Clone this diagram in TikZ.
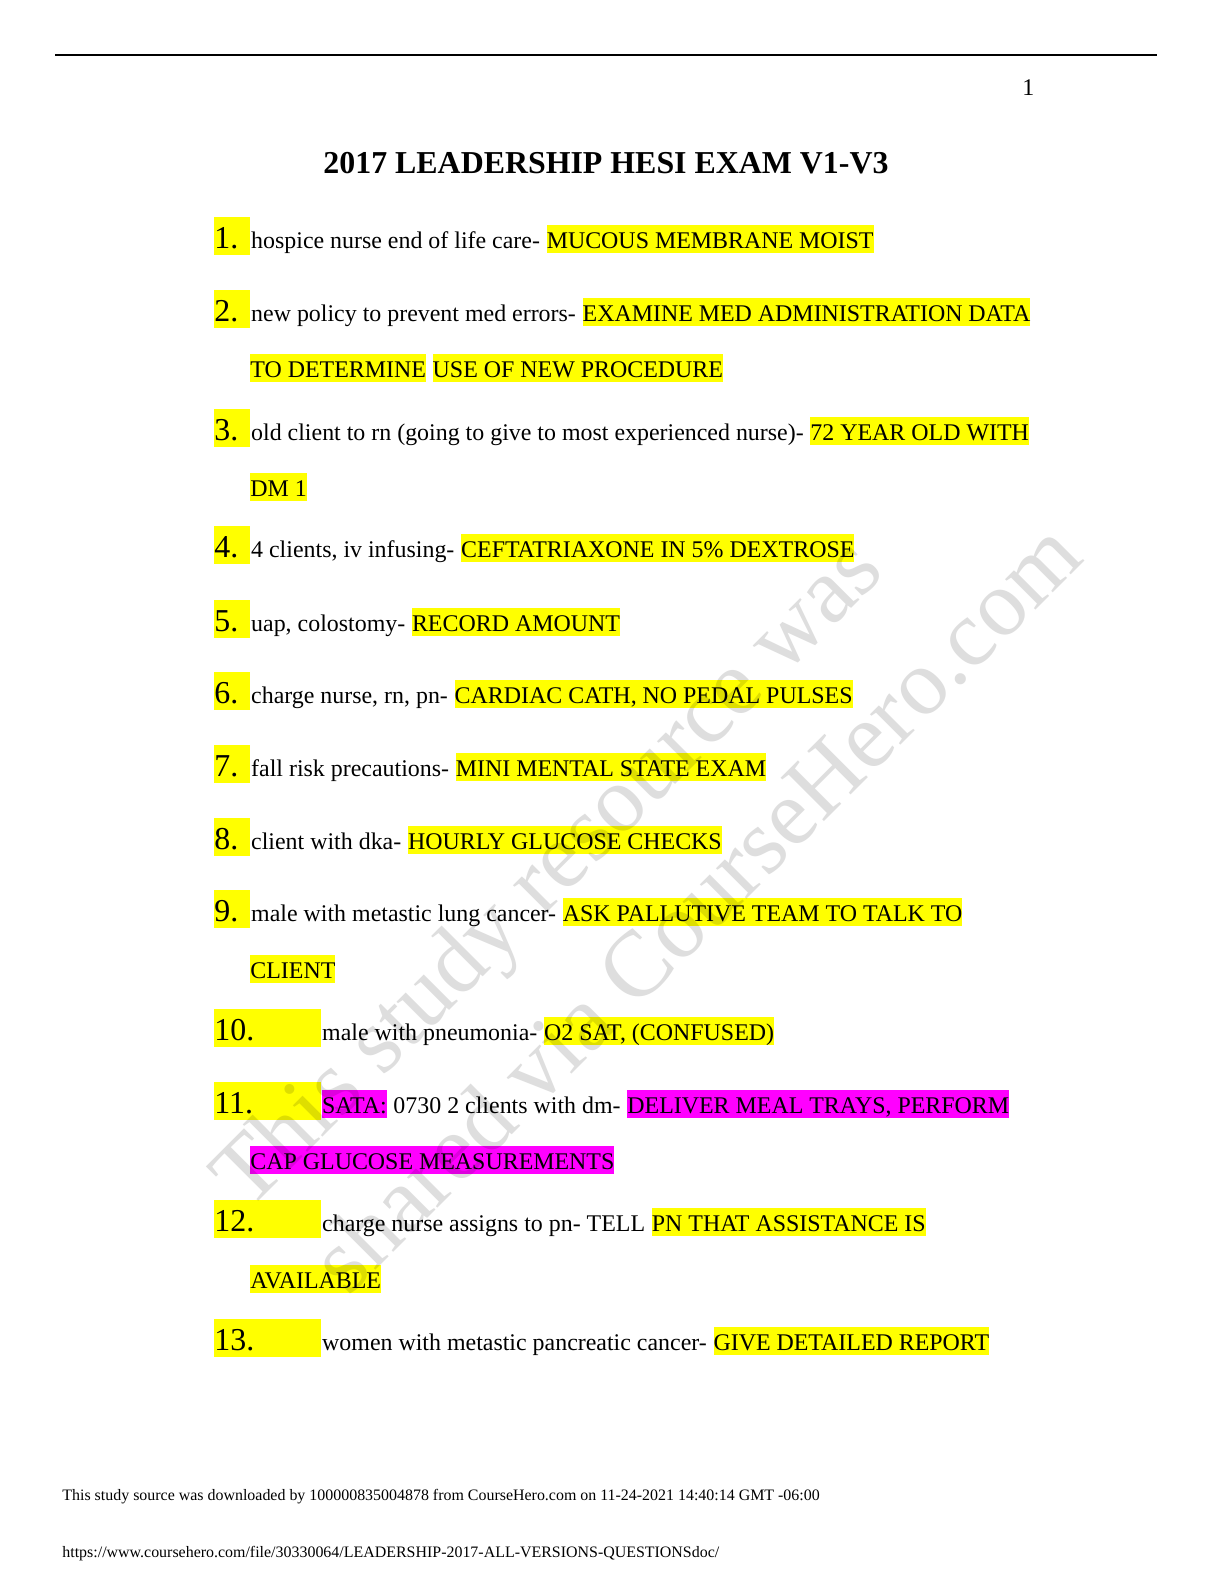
\documentclass[tikz,border=0pt]{standalone}
\usepackage{fontspec}
\setmainfont{Liberation Serif}
\usepackage{xcolor}
\usepackage{tikz}
\usetikzlibrary{positioning}
\definecolor{hlyellow}{RGB}{255,255,0}
\definecolor{hlmagenta}{RGB}{255,0,255}
\definecolor{wmgray}{RGB}{222,222,222}

\tikzset{
  num/.style={anchor=base west, inner sep=0pt, fill=hlyellow, align=left,
    font=\fontsize{16}{19}\selectfont, text height=15.3bp, text depth=3.4bp, text width=18bp},
  wnum/.style={num, text width=53.5bp},
  body/.style={anchor=base west, inner sep=0pt, font=\fontsize{12}{14}\selectfont,
    text height=11.3bp, text depth=2.7bp},
  hl/.style={body, fill=hlyellow},
  hlm/.style={body, fill=hlmagenta},
  foot/.style={anchor=base west, inner sep=0pt, font=\fontsize{8}{10}\selectfont},
  wmark/.style={anchor=base west, inner sep=0pt, rotate=45, text=wmgray,
    font=\fontsize{47}{50}\selectfont}
}

\begin{document}
\begin{tikzpicture}[x=0.5bp, y=-0.5bp]
  \useasboundingbox (0,0) rectangle (1224,1584);
  \fill[white] (0,0) rectangle (1224,1584);

  % header
  \coordinate (rl) at (55,55);
  \coordinate (rr) at (1157,55);
  \draw[line width=0.75bp] (rl) -- (rr);
  \node[body] (page) at (1022,95) {1};
  \node[anchor=base, inner sep=0pt, font=\fontsize{16}{19}\selectfont\bfseries] (title) at (606,173)
    {2017 LEADERSHIP HESI EXAM V1-V3};

  % 1
  \node[num] (n1) at (214,248) {1.};
  \node[body, base right=0pt of n1] (t1) {hospice nurse end of life care-};
  \node[hl, base right=3pt of t1] (h1) {MUCOUS MEMBRANE MOIST};
  % 2
  \node[num] (n2) at (214,321) {2.};
  \node[body, base right=0pt of n2] (t2) {new policy to prevent med errors-};
  \node[hl, base right=3pt of t2] (h2) {EXAMINE MED ADMINISTRATION DATA\ };
  \node[hl] (c2) at (250,377) {TO DETERMINE};
  \node[hl, base right=3pt of c2] (d2) {USE OF NEW PROCEDURE};
  % 3
  \node[num] (n3) at (214,440) {3.};
  \node[body, base right=0pt of n3] (t3) {old client to rn (going to give to most experienced nurse)-};
  \node[hl, base right=3pt of t3] (h3) {72 YEAR OLD WITH\ };
  \node[hl] (c3) at (250,496) {DM 1};
  % 4
  \node[num] (n4) at (214,557) {4.};
  \node[body, base right=0pt of n4] (t4) {4 clients, iv infusing-};
  \node[hl, base right=3pt of t4] (h4) {CEFTATRIAXONE IN 5\% DEXTROSE};
  % 5
  \node[num] (n5) at (214,631) {5.};
  \node[body, base right=0pt of n5] (t5) {uap, colostomy-};
  \node[hl, base right=3pt of t5] (h5) {RECORD AMOUNT};
  % 6
  \node[num] (n6) at (214,703) {6.};
  \node[body, base right=0pt of n6] (t6) {charge nurse, rn, pn-};
  \node[hl, base right=3pt of t6] (h6) {CARDIAC CATH, NO PEDAL PULSES};
  % 7
  \node[num] (n7) at (214,776) {7.};
  \node[body, base right=0pt of n7] (t7) {fall risk precautions-};
  \node[hl, base right=3pt of t7] (h7) {MINI MENTAL STATE EXAM};
  % 8
  \node[num] (n8) at (214,849) {8.};
  \node[body, base right=0pt of n8] (t8) {client with dka-};
  \node[hl, base right=3pt of t8] (h8) {HOURLY GLUCOSE CHECKS};
  % 9
  \node[num] (n9) at (214,921) {9.};
  \node[body, base right=0pt of n9] (t9) {male with metastic lung cancer-};
  \node[hl, base right=3pt of t9] (h9) {ASK PALLUTIVE TEAM TO TALK TO};
  \node[hl] (c9) at (250,978) {CLIENT};
  % 10
  \node[wnum] (n10) at (214,1040) {10.};
  \node[body, base right=0pt of n10] (t10) {male with pneumonia-};
  \node[hl, base right=3pt of t10] (h10) {O2 SAT, (CONFUSED)};
  % 11
  \node[wnum] (n11) at (214,1113) {11.};
  \node[hlm, base right=0pt of n11] (s11) {SATA:};
  \node[body, base right=3pt of s11] (t11) {0730 2 clients with dm-};
  \node[hlm, base right=3pt of t11] (h11) {DELIVER MEAL TRAYS, PERFORM\ };
  \node[hlm] (c11) at (250,1169) {CAP GLUCOSE MEASUREMENTS};
  % 12
  \node[wnum] (n12) at (214,1231) {12.};
  \node[body, base right=0pt of n12] (t12) {charge nurse assigns to pn- TELL};
  \node[hl, base right=3pt of t12] (h12) {PN THAT ASSISTANCE IS\ };
  \node[hl] (c12) at (250,1288) {AVAILABLE};
  % 13
  \node[wnum] (n13) at (214,1350) {13.};
  \node[body, base right=0pt of n13] (t13) {women with metastic pancreatic cancer-};
  \node[hl, base right=3pt of t13] (h13) {GIVE DETAILED REPORT};

  % footer
  \node[foot] (f1) at (62,1500)
    {This study source was downloaded by 100000835004878 from CourseHero.com on 11-24-2021 14:40:14 GMT -06:00};
  \node[foot] (f2) at (62,1557)
    {https://www.coursehero.com/file/30330064/LEADERSHIP-2017-ALL-VERSIONS-QUESTIONSdoc/};

  % watermark
  \begin{scope}[blend mode=multiply]
    \node[wmark] (w1) at (248,1212) {This study resource was};
    \node[wmark] (w2) at (348,1298) {shared via CourseHero.com};
  \end{scope}
\end{tikzpicture}
\end{document}
